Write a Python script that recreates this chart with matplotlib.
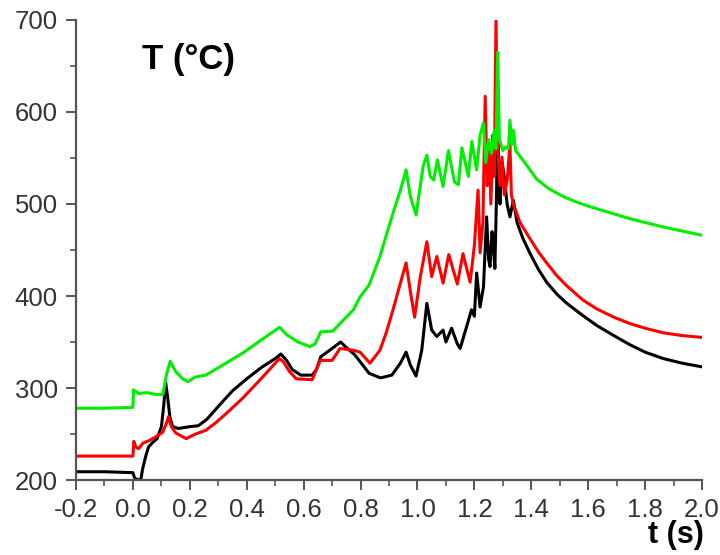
import matplotlib.pyplot as plt
from matplotlib.ticker import MultipleLocator

# black trace
t_black = [-0.2, -0.1, 0.0, 0.005, 0.015, 0.028, 0.034, 0.045, 0.055, 0.07, 0.085, 0.1, 0.108, 0.115,
           0.122, 0.13, 0.14, 0.16, 0.2, 0.23, 0.26, 0.3, 0.35, 0.4, 0.45, 0.5, 0.52, 0.54, 0.56, 0.59,
           0.63, 0.645, 0.66, 0.7, 0.73, 0.75, 0.78, 0.8, 0.83, 0.87, 0.91, 0.94, 0.96, 0.975, 0.995,
           1.015, 1.033, 1.05, 1.068, 1.09, 1.10, 1.12, 1.14, 1.15, 1.173, 1.19, 1.2, 1.208, 1.22,
           1.232, 1.243, 1.25, 1.255, 1.262, 1.267, 1.272, 1.278, 1.282, 1.286, 1.29, 1.297, 1.305,
           1.315, 1.325, 1.337, 1.35, 1.37, 1.396, 1.425, 1.454, 1.49, 1.525, 1.58, 1.63, 1.69, 1.747,
           1.8, 1.864, 1.93, 2.0]
T_black = [209, 209, 208, 203, 200, 201, 212, 226, 236, 241, 245, 258, 280, 306,
           290, 268, 258, 256, 258, 259, 266, 280, 297, 310, 322, 332, 337, 330, 320, 314,
           314, 320, 334, 343, 350, 344, 336, 328, 316, 311, 314, 327, 339, 325, 313,
           341, 392, 363, 356, 363, 350, 365, 348, 343, 367, 385, 378, 425, 388,
           410, 486, 440, 432, 470, 454, 430, 512, 612, 520, 500, 546, 530,
           500, 486, 504, 480, 463, 446, 429, 415, 402, 392, 379, 368, 357, 347,
           339, 332, 327, 323]

# red trace
t_red = [-0.2, -0.1, 0.0, 0.003, 0.01, 0.02, 0.035, 0.058, 0.08, 0.105, 0.118, 0.125, 0.135, 0.151,
         0.187, 0.22, 0.256, 0.29, 0.327, 0.386, 0.45, 0.515, 0.53, 0.55, 0.574, 0.63, 0.658, 0.70,
         0.728, 0.775, 0.798, 0.833, 0.868, 0.89, 0.914, 0.94, 0.96, 0.975, 0.99, 1.01, 1.033, 1.05,
         1.068, 1.09, 1.11, 1.14, 1.16, 1.185, 1.2, 1.213, 1.22, 1.23, 1.238, 1.245, 1.252, 1.258,
         1.265, 1.27, 1.276, 1.282, 1.29, 1.297, 1.305, 1.315, 1.325, 1.33, 1.337, 1.36, 1.396,
         1.425, 1.454, 1.49, 1.525, 1.58, 1.63, 1.69, 1.747, 1.8, 1.864, 1.93, 2.0]
T_red = [226, 226, 226, 242, 236, 234, 240, 243, 247, 252, 262, 269, 258, 251,
         245, 250, 254, 262, 272, 289, 310, 332, 328, 318, 310, 309, 330, 330,
         343, 341, 339, 327, 341, 360, 385, 414, 436, 405, 377, 421, 459, 421,
         443, 414, 445, 413, 446, 415, 455, 515, 447, 480, 617, 520, 560, 500,
         575, 530, 700, 560, 520, 551, 510, 525, 565, 510, 500, 480, 462,
         448, 436, 422, 411, 396, 386, 377, 370, 365, 360, 357, 355]

# green trace
t_green = [-0.2, -0.1, 0.0, 0.002, 0.02, 0.05, 0.08, 0.105, 0.118, 0.131, 0.15, 0.175, 0.193, 0.22,
           0.256, 0.3, 0.386, 0.45, 0.515, 0.54, 0.58, 0.622, 0.64, 0.66, 0.703, 0.74, 0.775, 0.798,
           0.83, 0.868, 0.914, 0.94, 0.96, 0.975, 0.995, 1.02, 1.033, 1.045, 1.057, 1.07, 1.09, 1.109,
           1.13, 1.144, 1.156, 1.179, 1.191, 1.208, 1.22, 1.232, 1.24, 1.25, 1.26, 1.27, 1.276, 1.282,
           1.288, 1.3, 1.31, 1.32, 1.325, 1.332, 1.337, 1.345, 1.37, 1.419, 1.46, 1.513, 1.56, 1.607,
           1.65, 1.747, 1.864, 2.0]
T_green = [278, 278, 279, 298, 294, 295, 293, 293, 315, 329, 318, 310, 307, 312,
           314, 322, 338, 352, 366, 358, 350, 345, 348, 361, 362, 374, 385, 399,
           412, 443, 490, 515, 537, 508, 488, 541, 553, 530, 526, 548, 519, 558,
           524, 521, 561, 530, 568, 537, 575, 588, 545, 570, 555, 580, 560, 665,
           570, 558, 562, 560, 591, 565, 580, 558, 548, 527, 517, 508, 502, 497,
           493, 484, 475, 466]

plt.rcParams['font.family'] = ['Liberation Sans', 'DejaVu Sans']

fig = plt.figure(figsize=(7.2, 5.55), dpi=100)
ax = fig.add_axes([0.1056, 0.1351, 0.8694, 0.8289])

ax.plot(t_black, T_black, color="black", lw=2.2)
ax.plot(t_red, T_red, color="#ff0000", lw=2.2)
ax.plot(t_green, T_green, color="#00ee00", lw=2.2)

ax.set_xlim(-0.2, 2.0)
ax.set_ylim(200, 700)
ax.xaxis.set_major_locator(MultipleLocator(0.2))
ax.xaxis.set_minor_locator(MultipleLocator(0.1))
ax.yaxis.set_major_locator(MultipleLocator(100))
ax.yaxis.set_minor_locator(MultipleLocator(50))
ax.set_xticklabels([f"{v:.1f}" for v in ax.get_xticks()])

for s in ["top", "right"]:
    ax.spines[s].set_visible(False)
for s in ["left", "bottom"]:
    ax.spines[s].set_color("#555555")
    ax.spines[s].set_linewidth(1.6)
ax.tick_params(which="major", length=7, width=1.4, color="#555555",
               labelsize=18.5, labelcolor="#333333", pad=6)
ax.tick_params(which="minor", length=4, width=1.2, color="#555555")

fig.text(0.197, 0.892, "T (°C)", fontsize=25, fontweight="bold", va="center", ha="left")
fig.text(0.977, 0.036, "t (s)", fontsize=22, fontweight="bold", va="center", ha="right")

fig.savefig("out.png", dpi=100)
